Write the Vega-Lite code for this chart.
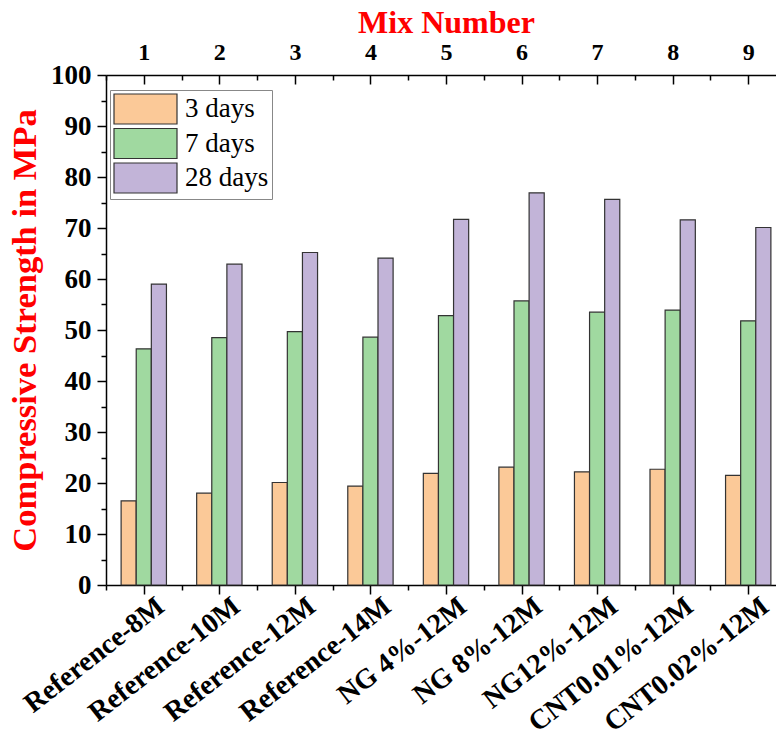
{
  "$schema": "https://vega.github.io/schema/vega-lite/v6.json",
  "width": 670,
  "height": 510,
  "autosize": {"type": "none"},
  "padding": {"left": 106, "top": 75, "right": 0, "bottom": 162},
  "background": "white",
  "config": {
    "view": {"stroke": null},
    "font": "Liberation Serif",
    "legend": {"labelFontSize": 27, "labelFont": "Liberation Serif", "labelLimit": 0}
  },
  "data": {
    "values": [
      {"mix": 1, "name": "Reference-8M", "age": "3 days", "strength": 16.5},
      {"mix": 1, "name": "Reference-8M", "age": "7 days", "strength": 46.3},
      {"mix": 1, "name": "Reference-8M", "age": "28 days", "strength": 59.0},
      {"mix": 2, "name": "Reference-10M", "age": "3 days", "strength": 18.0},
      {"mix": 2, "name": "Reference-10M", "age": "7 days", "strength": 48.5},
      {"mix": 2, "name": "Reference-10M", "age": "28 days", "strength": 62.9},
      {"mix": 3, "name": "Reference-12M", "age": "3 days", "strength": 20.1},
      {"mix": 3, "name": "Reference-12M", "age": "7 days", "strength": 49.7},
      {"mix": 3, "name": "Reference-12M", "age": "28 days", "strength": 65.2},
      {"mix": 4, "name": "Reference-14M", "age": "3 days", "strength": 19.4},
      {"mix": 4, "name": "Reference-14M", "age": "7 days", "strength": 48.6},
      {"mix": 4, "name": "Reference-14M", "age": "28 days", "strength": 64.1},
      {"mix": 5, "name": "NG 4%-12M", "age": "3 days", "strength": 21.9},
      {"mix": 5, "name": "NG 4%-12M", "age": "7 days", "strength": 52.8},
      {"mix": 5, "name": "NG 4%-12M", "age": "28 days", "strength": 71.7},
      {"mix": 6, "name": "NG 8%-12M", "age": "3 days", "strength": 23.1},
      {"mix": 6, "name": "NG 8%-12M", "age": "7 days", "strength": 55.7},
      {"mix": 6, "name": "NG 8%-12M", "age": "28 days", "strength": 76.9},
      {"mix": 7, "name": "NG12%-12M", "age": "3 days", "strength": 22.2},
      {"mix": 7, "name": "NG12%-12M", "age": "7 days", "strength": 53.5},
      {"mix": 7, "name": "NG12%-12M", "age": "28 days", "strength": 75.6},
      {"mix": 8, "name": "CNT0.01%-12M", "age": "3 days", "strength": 22.7},
      {"mix": 8, "name": "CNT0.01%-12M", "age": "7 days", "strength": 53.9},
      {"mix": 8, "name": "CNT0.01%-12M", "age": "28 days", "strength": 71.6},
      {"mix": 9, "name": "CNT0.02%-12M", "age": "3 days", "strength": 21.5},
      {"mix": 9, "name": "CNT0.02%-12M", "age": "7 days", "strength": 51.8},
      {"mix": 9, "name": "CNT0.02%-12M", "age": "28 days", "strength": 70.1}
    ]
  },
  "layer": [
    {
      "mark": {"type": "bar", "stroke": "#333333", "strokeWidth": 1.2},
      "encoding": {
        "x": {
          "field": "name", "type": "nominal", "sort": null,
          "scale": {"range": [0, 680], "paddingInner": 0, "paddingOuter": 0},
          "axis": null
        },
        "xOffset": {
          "field": "age", "type": "nominal", "sort": ["3 days", "7 days", "28 days"],
          "scale": {"paddingInner": 0, "paddingOuter": 1}
        },
        "y": {
          "field": "strength", "type": "quantitative",
          "scale": {"domain": [0, 100], "nice": false},
          "axis": {
            "orient": "left",
            "values": [0, 5, 10, 15, 20, 25, 30, 35, 40, 45, 50, 55, 60, 65, 70, 75, 80, 85, 90, 95, 100],
            "labelExpr": "datum.value % 10 === 0 ? datum.label : ''",
            "tickSize": {"condition": {"test": "datum.value % 10 === 0", "value": 9}, "value": 5},
            "labelOverlap": false,
            "labelFlush": false,
            "labelFont": "Liberation Serif", "labelFontWeight": "bold", "labelFontSize": 27,
            "labelColor": "black", "labelPadding": 6,
            "domainColor": "black", "domainWidth": 1.5,
            "tickColor": "black", "tickWidth": 1.5,
            "grid": false,
            "title": "Compressive Strength in MPa",
            "titleColor": "#FF0000", "titleFont": "Liberation Serif",
            "titleFontSize": 34.5, "titleFontWeight": "bold", "titlePadding": 8
          }
        },
        "color": {
          "field": "age", "type": "nominal",
          "scale": {"domain": ["3 days", "7 days", "28 days"], "range": ["#FBC998", "#A0D9A0", "#C2B4D8"]},
          "legend": {
            "orient": "none", "legendX": 4, "legendY": 15, "title": null,
            "symbolType": "M-1,-1H3.2V1H-1Z", "symbolSize": 900,
            "symbolStrokeColor": "#333333", "symbolStrokeWidth": 1.2, "symbolOpacity": 1,
            "labelFont": "Liberation Serif", "labelFontSize": 27, "labelColor": "black",
            "labelOffset": 40, "rowPadding": -1.5,
            "strokeColor": "#888888", "fillColor": "white", "padding": 3
          }
        }
      }
    },
    {
      "mark": {"type": "point", "opacity": 0},
      "encoding": {
        "x": {
          "field": "mix", "type": "quantitative",
          "scale": {"domain": [0.5, 9.5], "range": [0, 680], "nice": false, "zero": false},
          "axis": {
            "orient": "bottom",
            "values": [0.5, 1, 1.5, 2, 2.5, 3, 3.5, 4, 4.5, 5, 5.5, 6, 6.5, 7, 7.5, 8, 8.5, 9, 9.5],
            "labelExpr": "datum.value % 1 === 0 ? ['Reference-8M','Reference-10M','Reference-12M','Reference-14M','NG 4%-12M','NG 8%-12M','NG12%-12M','CNT0.01%-12M','CNT0.02%-12M'][datum.value - 1] : ''",
            "tickSize": {"condition": {"test": "datum.value % 1 === 0", "value": 9}, "value": 5},
            "labelAngle": -38, "labelAlign": "right", "labelBaseline": "middle",
            "labelOverlap": false, "labelFlush": false, "labelBound": false, "labelLimit": 0,
            "labelFont": "Liberation Serif", "labelFontWeight": "bold", "labelFontSize": 28,
            "labelColor": "black", "labelPadding": 9, "labelOffset": 17,
            "domainColor": "black", "domainWidth": 1.5,
            "tickColor": "black", "tickWidth": 1.5,
            "grid": false, "title": null
          }
        }
      }
    },
    {
      "mark": {"type": "point", "opacity": 0},
      "encoding": {
        "x": {
          "field": "mix", "type": "quantitative",
          "scale": {"domain": [0.5, 9.5], "range": [0, 680], "nice": false, "zero": false},
          "axis": {
            "orient": "top",
            "values": [0.5, 1, 1.5, 2, 2.5, 3, 3.5, 4, 4.5, 5, 5.5, 6, 6.5, 7, 7.5, 8, 8.5, 9, 9.5],
            "labelExpr": "datum.value % 1 === 0 ? format(datum.value, 'd') : ''",
            "tickSize": {"condition": {"test": "datum.value % 1 === 0", "value": -9}, "value": -5},
            "labelOverlap": false, "labelFlush": false,
            "labelFont": "Liberation Serif", "labelFontWeight": "bold", "labelFontSize": 24,
            "labelColor": "black", "labelPadding": 20,
            "domainColor": "black", "domainWidth": 1.5,
            "tickColor": "black", "tickWidth": 1.5,
            "grid": false,
            "title": "Mix Number",
            "titleColor": "#FF0000", "titleFont": "Liberation Serif",
            "titleFontSize": 32, "titleFontWeight": "bold", "titlePadding": -3
          }
        }
      }
    }
  ],
  "resolve": {"scale": {"x": "independent"}, "axis": {"x": "independent"}}
}
